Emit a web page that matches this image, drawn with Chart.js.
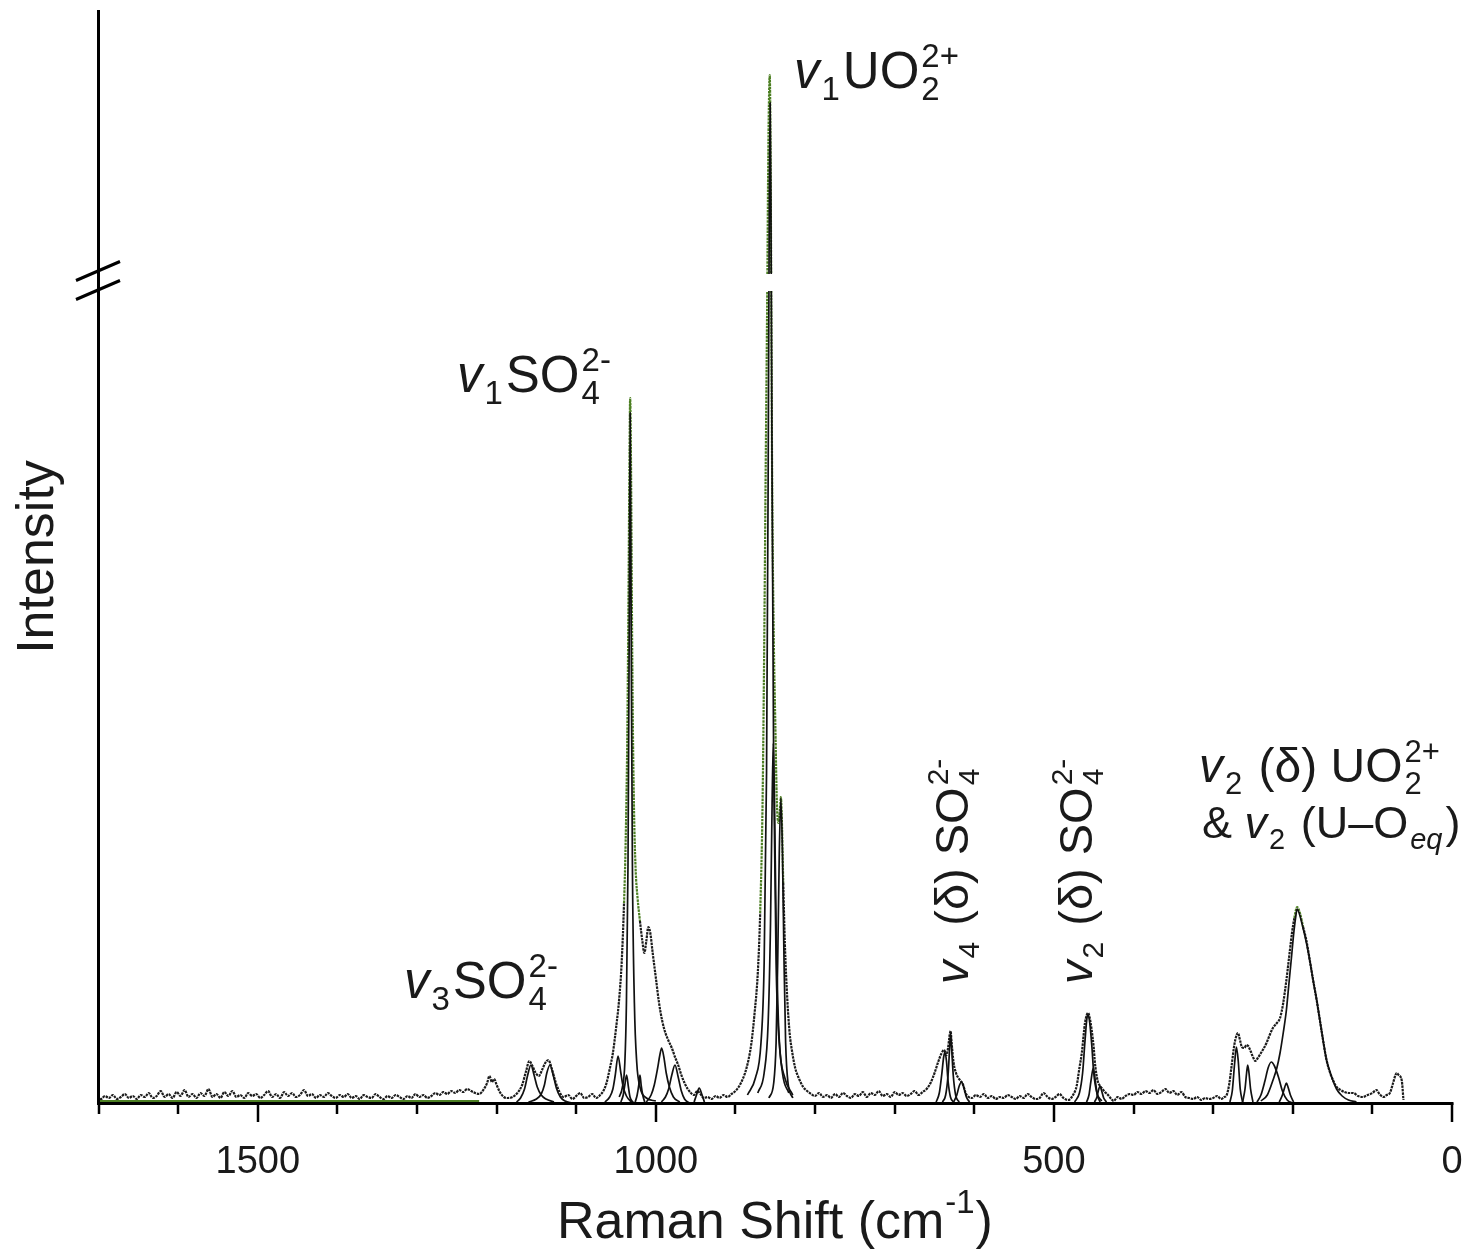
<!DOCTYPE html>
<html>
<head>
<meta charset="utf-8">
<script src="https://cdn.jsdelivr.net/npm/chart.js@4.4.1/dist/chart.umd.min.js"></script>
<style>
  html, body { margin: 0; padding: 0; background: #fff; overflow: hidden; }
  #wrap { width: 1469px; height: 1258px; position: relative; }
</style>
</head>
<body>
<div id="wrap"><canvas id="ramanChart"></canvas></div>
<script>
// measured spectrum (Raman shift in cm-1, intensity in arbitrary units)
const obsShift = [
  1702,1697,1692,1687,1682,1677,1672,1667,1662,1657,1652,1647,1642,1637,1632,1627,1622,1617,1612,1607,
  1602,1597,1592,1587,1582,1577,1572,1567,1562,1557,1552,1547,1542,1537,1532,1527,1522,1517,1512,1507,
  1502,1497,1492,1487,1482,1477,1472,1467,1462,1457,1452,1447,1442,1437,1432,1427,1422,1417,1412,1407,
  1402,1397,1392,1387,1382,1377,1372,1367,1362,1357,1352,1347,1342,1337,1332,1327,1322,1317,1312,1307,
  1302,1297,1292,1287,1282,1277,1272,1267,1262,1257,1252,1247,1242,1237,1232,1227,1222,
  1216,1212,1209,1206,1203,1200,1196,1191,1186,1180,1174,1168,1163,1159,1155,1151,1147,1143,1139,1135,
  1131,1126,1121,1116,1110,1105,1100,1095,1090,1085,1080,1075,1070,1066,1062,1058,1054,1050,1046,1043,
  1040,1038,1036,1034.5,1033.3,1032.3,1031.3,1030.2,1029,1027.5,1025.5,1023,1020,1017,1014.5,1012,1009.5,1007,1004,1000,
  996,992,988,984,980,976,972,968,964,960,956,952,948,944,940,935,930,925,920,915,
  910,905,900,896,892,888,884,880,876,872,869,866,864,862,860,859,858,857,856,855,
  854,852,850,848,846,844,843,842,840,838,835,832,829,825,820,815,810,805,800,795,
  790,785,780,775,770,765,760,755,750,745,740,735,730,725,720,715,710,705,700,695,
  690,685,680,675,670,665,660,655,650,645,641,638,635,633,631,629.8,628.5,626,623,620,
  617,614,611,607,603,598,593,588,583,578,573,568,563,558,553,548,543,538,533,528,
  523,518,513,508,503,498,493,488,482,476,471.5,468,465,461,457,455,452.6,450,448.5,445,
  442,440,436,432,428,425,420,415,410,405,400,395,390,385,380,375,370,365,360,355,
  350,345,340,335,330,325,320,315,310,305,300,295,290,286,283,280,277,274,272,269,
  266,264,261,258,256,253,250,247,244,240,237,233,229,225,220,216,212,208,204,201,
  198,194.6,191,187,183,178.5,174.5,170,166,162,157.6,153,149,145,140,135,130,124,118,112,
  106,100,95,91,86,82,78,74,71,69.6,67,63,61
];
const obsInt = [
  6,4,7,5,8,4,6,9,5,7,4,8,6,10,5,7,12,6,9,5,
  11,7,13,6,9,5,10,7,14,6,9,5,11,7,12,6,8,5,10,7,
  9,5,8,12,6,9,5,11,7,10,6,8,13,7,9,5,8,6,10,7,
  5,8,6,9,5,7,4,8,6,5,9,6,4,7,5,8,6,4,7,5,
  9,6,8,5,7,10,8,11,9,12,10,13,11,14,12,10,9,
  14,20,27,21,24,18,11,6,5,6,10,18,32,42,37,30,27,33,40,43,
  35,21,11,6,8,4,7,10,5,6,9,5,8,12,20,34,50,75,105,140,
  200,260,360,495,630,705,645,505,385,295,235,205,182,162,150,162,176,170,150,125,
  100,82,70,62,55,46,38,28,20,14,10,8,12,9,5,6,4,7,5,8,
  6,9,12,16,22,30,42,60,90,130,190,300,450,640,820,930,1000,1028,960,800,
  630,470,380,300,280,295,306,290,220,160,105,70,52,35,24,16,12,9,7,10,
  6,8,5,9,6,10,7,5,9,7,11,6,10,8,12,7,9,6,11,8,
  10,7,9,12,8,11,14,20,30,42,50,53,48,55,68,72,60,40,30,25,
  22,18,10,6,5,8,6,9,5,7,4,6,5,8,6,4,7,5,9,6,
  4,5,10,6,4,6,9,5,3,8,17,35,50,80,90,85,73,55,40,22,
  17,15,11,8,4,2,6,4,7,9,8,11,9,12,10,13,9,11,14,10,
  12,8,11,6,5,4,6,3,5,4,5,7,4,6,8,18,36,55,64,70,
  62,56,55,58,57,52,46,42,45,50,54,60,68,75,80,85,100,123,150,170,
  185,196,190,176,163,142,123,103,83,63,43,30,22,16,13,11,10,10,7,6,
  8,10,13,9,6,8,10,20,28,30,28,22,3
];

// fitted baseline under the noisy part
const fitBaseShift = [1702, 1222];
const fitBaseInt = [2, 2];

// fitted component bands: [shift, intensity]
const band1157 = [[1175,1],[1170,5],[1165,14],[1161,28],[1157,38],[1153,28],[1149,16],[1144,8],[1138,4],[1128,1]];
const band1133 = [[1160,1],[1150,4],[1144,9],[1140,18],[1137,30],[1133,38],[1129,28],[1125,15],[1120,6],[1114,2],[1105,0]];
const band1047 = [[1064,1],[1058,6],[1054,14],[1051,28],[1047.5,47],[1044,30],[1041,16],[1037,7],[1032,2],[1026,0]];
const band1037 = [[1044,1],[1041,8],[1039,18],[1036.8,28],[1034.5,16],[1032.5,6],[1029,1]];
const band1032 = [[1046,6],[1042,16],[1039,40],[1037,100],[1035,240],[1033.5,470],[1032.3,690],[1031,470],[1029.5,240],[1027,100],[1024,40],[1020,16],[1012,5],[1000,2]];
const band1020 = [[1026,1],[1023.5,8],[1021.5,18],[1020,28],[1018.5,18],[1016.5,8],[1014,1]];
const band993 = [[1012,1],[1006,8],[1002,18],[998,34],[995,48],[992.8,55],[990,46],[987,30],[983,16],[978,6],[970,1]];
const band976 = [[993,1],[988,6],[984,14],[980,28],[976,38],[972,26],[968,12],[964,4],[958,0]];
const band946 = [[952,1],[949,8],[945.6,15],[942,8],[939,1]];
const band857 = [[885,8],[875,25],[868,60],[864,140],[861,330],[859,620],[857.5,900],[856.5,1000],[855.5,900],[854,620],[852,330],[849,140],[845,60],[838,25],[828,8]];
const band852 = [[872,10],[864,30],[859,80],[856,180],[854,300],[852.5,360],[851,300],[849,180],[846,80],[841,30],[833,10]];
const band843 = [[858,5],[852,20],[849,60],[847,140],[845,250],[843,305],[841,250],[839,140],[837,60],[834,20],[828,5]];
const band637 = [[648,1],[644,10],[641,28],[638.5,46],[636.9,51],[635,42],[633,22],[630,6],[626,1]];
const band630 = [[640,1],[636,8],[633,28],[631,55],[629.8,70],[628.5,55],[626.5,28],[623.5,8],[619,1]];
const band616 = [[626,1],[622,8],[619,17],[616,21],[613,15],[610,6],[606,1]];
const band457 = [[474,1],[468,10],[464,30],[461,62],[458.5,85],[457,88],[455,80],[452.5,58],[450,30],[446,10],[440,2]];
const band451 = [[459,1],[456,8],[453.5,22],[450.6,35],[448,22],[445.5,8],[442,1]];
const band442 = [[449,1],[446,6],[444,13],[442.2,17],[440,12],[437.5,5],[434,1]];
const band271 = [[279,1],[276,12],[273,40],[270.8,56],[268.5,42],[266,14],[263,1]];
const band257 = [[263,1],[260,14],[258,30],[256.6,38],[255,30],[253,14],[250,1]];
const band227 = [[245,1],[240,8],[235,22],[231,35],[227,41],[223,37],[218,26],[213,12],[207,3],[200,0]];
const band208 = [[217,1],[213,8],[210,16],[208,20],[206,16],[203,8],[199,1]];
const band195 = [[240,2],[232,8],[224.8,23],[220,35],[216,50],[212,70],[208,93],[205,118],[201.6,146],[198.5,172],[196,188],[194.6,194],[192,190],[188,178],[185,168],[182.8,160],[178.5,142],[174.5,123],[170,103],[166,83],[162,63],[157.6,43],[152,28],[145,14],[138,7],[130,3],[120,1]];

const bands = [band1157, band1133, band1047, band1037, band1032, band1020, band993, band976, band946,
  band857, band852, band843, band637, band630, band616, band457, band451, band442,
  band271, band257, band227, band208, band195];

// axis
const xMin = 0, xMax = 1702;
const yMax = 1093;
const majorTicks = [1500, 1000, 500, 0];
const minorTicks = [1700,1600,1400,1300,1200,1100,900,800,700,600,400,300,200,100];
const breakRange = [812, 829];   // gap drawn in the broken intensity axis

const FONT = '"Liberation Sans", Arial, Helvetica, sans-serif';
const GREEN = '#4c7f22';
const DARK = '#1c1c1c';

// draw text made of runs: ['txt','n'|'i'|'sub'|'subi'] or [[sub, sup], 'stack']
function drawRich(ctx, x, y, parts, size) {
  const small = Math.round(size * 0.64);
  let cx = x;
  ctx.textBaseline = 'alphabetic';
  ctx.textAlign = 'left';
  for (const [t, kind] of parts) {
    if (kind === 'n' || kind === 'i') {
      ctx.font = (kind === 'i' ? 'italic ' : '') + size + 'px ' + FONT;
      ctx.fillText(t, cx, y);
      cx += ctx.measureText(t).width;
    } else if (kind === 'sub' || kind === 'subi') {
      ctx.font = (kind === 'subi' ? 'italic ' : '') + small + 'px ' + FONT;
      ctx.fillText(t, cx + 2, y + size * 0.24);
      cx += ctx.measureText(t).width + 5;
    } else if (kind === 'stack') {
      ctx.font = small + 'px ' + FONT;
      ctx.fillText(t[0], cx + 2, y + size * 0.24);
      ctx.fillText(t[1], cx + 2, y - size * 0.42);
      cx += Math.max(ctx.measureText(t[0]).width, ctx.measureText(t[1]).width) + 2;
    }
  }
}

const axesPlugin = {
  id: 'axesPlugin',
  afterDatasetsDraw(chart) {
    const ctx = chart.ctx;
    const xs = chart.scales.x, ys = chart.scales.y;
    const area = chart.chartArea;
    const y0 = ys.getPixelForValue(0);
    ctx.save();

    // gap of the broken axis across the tall peak
    const gTop = ys.getPixelForValue(breakRange[1]);
    const gBot = ys.getPixelForValue(breakRange[0]);
    ctx.fillStyle = '#fff';
    ctx.fillRect(xs.getPixelForValue(880), gTop, xs.getPixelForValue(830) - xs.getPixelForValue(880), gBot - gTop);

    ctx.strokeStyle = '#000';
    ctx.lineCap = 'butt';
    // x axis
    ctx.lineWidth = 3;
    ctx.beginPath();
    ctx.moveTo(area.left, y0 + 0.5);
    ctx.lineTo(area.right + 1.5, y0 + 0.5);
    ctx.stroke();
    // y axis
    ctx.beginPath();
    ctx.moveTo(area.left + 1.5, area.top);
    ctx.lineTo(area.left + 1.5, y0 + 2);
    ctx.stroke();
    // ticks
    ctx.lineWidth = 2.5;
    for (const v of minorTicks) {
      const px = Math.round(xs.getPixelForValue(v));
      ctx.beginPath(); ctx.moveTo(px, y0); ctx.lineTo(px, y0 + 11); ctx.stroke();
    }
    for (const v of majorTicks) {
      let px = Math.round(xs.getPixelForValue(v));
      if (v === 0) px = area.right;
      ctx.beginPath(); ctx.moveTo(px, y0); ctx.lineTo(px, y0 + 19); ctx.stroke();
    }
    // break marks on the y axis
    const ym = (gTop + gBot) / 2;
    ctx.lineWidth = 3;
    ctx.beginPath();
    ctx.moveTo(area.left - 21, ym - 2); ctx.lineTo(area.left + 23, ym - 21);
    ctx.moveTo(area.left - 21, ym + 17); ctx.lineTo(area.left + 23, ym - 2);
    ctx.stroke();

    // tick labels
    ctx.fillStyle = '#1a1a1a';
    ctx.font = '38px ' + FONT;
    ctx.textAlign = 'center';
    ctx.textBaseline = 'alphabetic';
    for (const v of majorTicks) {
      ctx.fillText(String(v), xs.getPixelForValue(v), y0 + 70);
    }

    // axis titles
    ctx.font = '52px ' + FONT;
    const t1 = 'Raman Shift (cm';
    const w1 = ctx.measureText(t1).width;
    ctx.font = '33px ' + FONT;
    const w2 = ctx.measureText('-1').width;
    ctx.font = '52px ' + FONT;
    const w3 = ctx.measureText(')').width;
    let tx = 774 - (w1 + w2 + w3) / 2;
    ctx.textAlign = 'left';
    ctx.fillText(t1, tx, 1238);
    ctx.font = '33px ' + FONT;
    ctx.fillText('-1', tx + w1 + 1, 1213);
    ctx.font = '52px ' + FONT;
    ctx.fillText(')', tx + w1 + w2 + 2, 1238);

    ctx.save();
    ctx.translate(53, 557);
    ctx.rotate(-Math.PI / 2);
    ctx.textAlign = 'center';
    ctx.font = '52px ' + FONT;
    ctx.fillText('Intensity', 0, 0);
    ctx.restore();

    // band annotations
    drawRich(ctx, 794, 88, [['v','i'],['1','sub'],['UO','n'],[['2','2+'],'stack']], 51);
    drawRich(ctx, 457, 392, [['v','i'],['1','sub'],['SO','n'],[['4','2-'],'stack']], 51);
    drawRich(ctx, 404, 998, [['v','i'],['3','sub'],['SO','n'],[['4','2-'],'stack']], 51);
    drawRich(ctx, 1199, 782, [['v','i'],['2','sub'],[' (δ) UO','n'],[['2','2+'],'stack']], 48);
    drawRich(ctx, 1202, 838, [['& ','n'],['v','i'],['2','sub'],[' (U\u2013O','n'],['eq','subi'],[')','n']], 45);

    ctx.save();
    ctx.translate(968, 984);
    ctx.rotate(-Math.PI / 2);
    drawRich(ctx, 0, 0, [['v','i'],['4','sub'],[' (δ) SO','n'],[['4','2-'],'stack']], 47);
    ctx.restore();
    ctx.save();
    ctx.translate(1092, 984);
    ctx.rotate(-Math.PI / 2);
    drawRich(ctx, 0, 0, [['v','i'],['2','sub'],[' (δ) SO','n'],[['4','2-'],'stack']], 47);
    ctx.restore();

    ctx.restore();
  }
};

const obsData = obsShift.map((v, i) => ({ x: v, y: obsInt[i] }));
const bandSets = bands.map(b => ({
  data: b.map(p => ({ x: p[0], y: p[1] })),
  borderColor: '#111',
  borderWidth: 1.7,
  pointRadius: 0,
  cubicInterpolationMode: 'monotone',
  fill: false
}));

new Chart(document.getElementById('ramanChart'), {
  type: 'line',
  data: {
    datasets: [
      ...bandSets,
      {
        data: fitBaseShift.map((v, i) => ({ x: v, y: fitBaseInt[i] })),
        borderColor: GREEN,
        borderWidth: 2,
        pointRadius: 0
      },
      {
        data: obsData,
        borderColor: DARK,
        borderWidth: 2.2,
        borderDash: [2.5, 0.9],
        pointRadius: 0,
        cubicInterpolationMode: 'monotone',
        segment: {
          borderColor: c => (c.p0.parsed.y > 170 && c.p1.parsed.y > 170) ? GREEN : DARK
        }
      }
    ]
  },
  options: {
    responsive: true,
    maintainAspectRatio: false,
    animation: false,
    devicePixelRatio: 1,
    layout: { padding: { left: 97, right: 17, top: 10, bottom: 155 } },
    scales: {
      x: { type: 'linear', reverse: true, min: xMin, max: xMax, display: false },
      y: { type: 'linear', min: 0, max: yMax, display: false }
    },
    plugins: { legend: { display: false }, tooltip: { enabled: false } }
  },
  plugins: [axesPlugin]
});
</script>
</body>
</html>
